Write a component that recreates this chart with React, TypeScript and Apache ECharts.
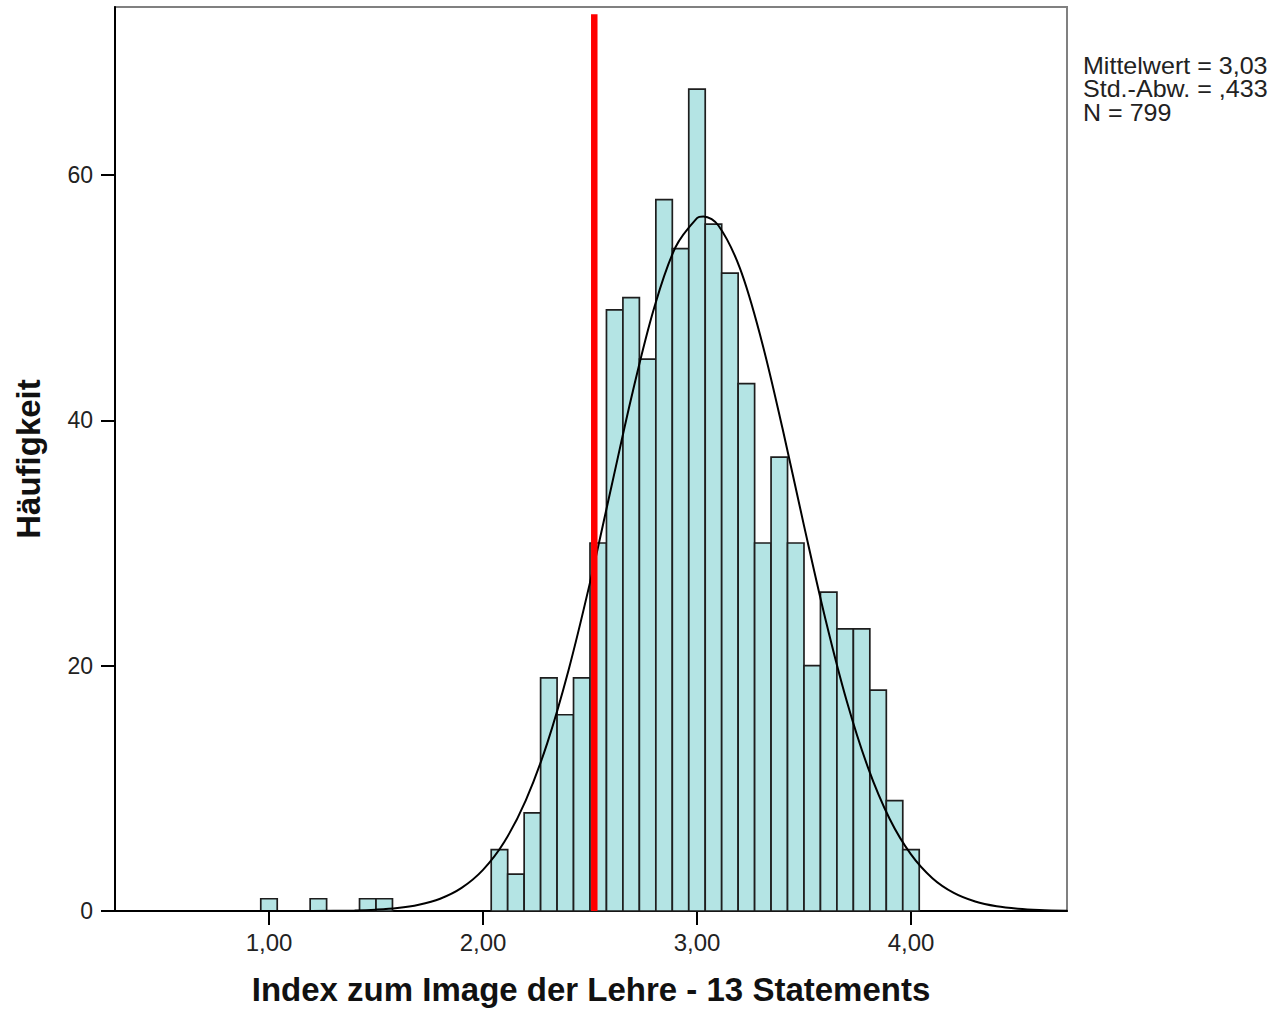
import React, { useEffect, useRef } from "react";
import * as echarts from "echarts";

// Histogram bins: centres (k/13) and frequencies
const BIN_CENTERS = [
  1.0, 1.2308, 1.4615, 1.5385,
  2.0769, 2.1538, 2.2308, 2.3077, 2.3846, 2.4615, 2.5385, 2.6154, 2.6923, 2.7692,
  2.8462, 2.9231, 3.0, 3.0769, 3.1538, 3.2308, 3.3077, 3.3846, 3.4615, 3.5385,
  3.6154, 3.6923, 3.7692, 3.8462, 3.9231, 4.0,
];
const BIN_COUNTS = [
  1, 1, 1, 1,
  5, 3, 8, 19, 16, 19, 30, 49, 50, 45,
  58, 54, 67, 56, 52, 43, 30, 37, 30, 20,
  26, 23, 23, 18, 9, 5,
];
const BIN_WIDTH = 1 / 13;

// Normal curve
const CURVE_X = [
  0.28, 1.0, 1.2, 1.4, 1.5, 1.6, 1.7, 1.8, 1.9, 2.0, 2.1, 2.2, 2.3, 2.4, 2.5, 2.6,
  2.7, 2.8, 2.9, 3.0, 3.03, 3.1, 3.2, 3.3, 3.4, 3.5, 3.6, 3.7, 3.8, 3.9, 4.0, 4.1,
  4.2, 4.3, 4.4, 4.5, 4.6, 4.73,
];
const CURVE_Y = [
  0, 0, 0.01, 0.05, 0.11, 0.24, 0.51, 1.0, 1.88, 3.35, 5.64, 9.02, 13.67, 19.65, 26.77, 34.59,
  42.36, 49.18, 54.13, 56.49, 56.63, 55.89, 52.43, 46.62, 39.31, 31.42, 23.81, 17.1, 11.65, 7.52, 4.61, 2.67,
  1.47, 0.77, 0.38, 0.18, 0.08, 0.02,
];

const REFERENCE_X = 2.52;
const X_TICKS = [1, 2, 3, 4];
const Y_TICKS = [0, 20, 40, 60];
const STATS = ["Mittelwert = 3,03", "Std.-Abw. = ,433", "N = 799"];
const X_TITLE = "Index zum Image der Lehre - 13 Statements";
const Y_TITLE = "Häufigkeit";

const FONT = "'Liberation Sans', Arial, sans-serif";

export default function App() {
  const ref = useRef<HTMLDivElement>(null);
  useEffect(() => {
    if (!ref.current) return;
    const chart = echarts.init(ref.current, null, { renderer: "svg" });
    const bars = BIN_CENTERS.map((c, i) => [c, BIN_COUNTS[i]]);
    const curve = CURVE_X.map((x, i) => [x, CURVE_Y[i]]);
    chart.setOption({
      animation: false,
      backgroundColor: "#ffffff",
      textStyle: { fontFamily: FONT },
      grid: {
        left: 115,
        right: 215,
        top: 7,
        bottom: 98,
        outerBoundsMode: "none",
        containLabel: false,
        show: true,
        borderColor: "#808080",
        borderWidth: 2,
        backgroundColor: "transparent",
      },
      xAxis: {
        type: "value",
        min: 0.2804,
        max: 4.729,
        name: X_TITLE,
        nameLocation: "middle",
        nameGap: 62,
        nameTextStyle: { fontSize: 33, lineHeight: 33, fontWeight: "bold", color: "#111", fontFamily: FONT },
        axisLine: { show: true, onZero: false, lineStyle: { color: "#000", width: 2 } },
        axisTick: { show: true, length: 14, customValues: X_TICKS, lineStyle: { color: "#000", width: 2 } },
        axisLabel: {
          customValues: X_TICKS,
          margin: 19,
          fontSize: 24,
          color: "#222",
          fontFamily: FONT,
          formatter: (v: number) => v.toFixed(2).replace(".", ","),
        },
        splitLine: { show: false },
      },
      yAxis: {
        type: "value",
        min: 0,
        max: 73.7,
        name: Y_TITLE,
        nameLocation: "middle",
        nameGap: 70,
        nameTextStyle: { fontSize: 33, fontWeight: "bold", color: "#111", fontFamily: FONT },
        axisLine: { show: true, onZero: false, lineStyle: { color: "#000", width: 2 } },
        axisTick: { show: true, length: 14, customValues: Y_TICKS, lineStyle: { color: "#000", width: 2 } },
        axisLabel: {
          customValues: Y_TICKS,
          margin: 22,
          fontSize: 23,
          color: "#222",
          fontFamily: FONT,
          formatter: (v: number) => String(v),
        },
        splitLine: { show: false },
      },
      series: [
        {
          type: "custom",
          data: bars,
          encode: { x: 0, y: 1 },
          z: 2,
          renderItem: (params: any, api: any) => {
            const c = api.value(0);
            const v = api.value(1);
            const p0 = api.coord([c - BIN_WIDTH / 2, v]);
            const p1 = api.coord([c + BIN_WIDTH / 2, 0]);
            return {
              type: "rect",
              shape: { x: p0[0], y: p0[1], width: p1[0] - p0[0], height: p1[1] - p0[1] },
              style: { fill: "#b4e4e4", stroke: "#1e1e1e", lineWidth: 1.7 },
            };
          },
        },
        {
          type: "line",
          data: curve,
          smooth: 0.35,
          symbol: "none",
          z: 4,
          lineStyle: { color: "#000", width: 2 },
        },
        {
          type: "line",
          data: [
            [REFERENCE_X, 0],
            [REFERENCE_X, 73.1],
          ],
          symbol: "none",
          z: 5,
          lineStyle: { color: "#ff0000", width: 6.5, cap: "butt" },
        },
      ],
      graphic: STATS.map((t, i) => ({
        type: "text",
        x: 1083,
        y: 54 + i * 23.5,
        scaleX: 1.09,
        style: { text: t, font: `23px ${FONT}`, fill: "#222" },
      })),
    });
    return () => chart.dispose();
  }, []);
  return (
    <div
      ref={ref}
      style={{ position: "fixed", left: 0, top: 0, width: 1282, height: 1009, background: "#fff" }}
    />
  );
}
